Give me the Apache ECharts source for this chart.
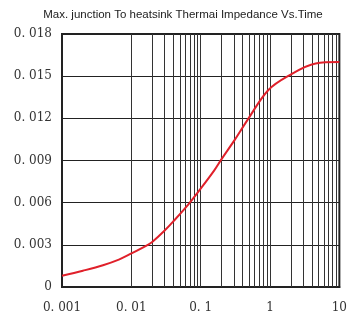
<!DOCTYPE html>
<html>
<head>
<meta charset="utf-8">
<script src="https://cdn.jsdelivr.net/npm/echarts@6/dist/echarts.min.js"></script>
<style>
  html, body { margin: 0; padding: 0; background: #fff; }
  #chart { width: 350px; height: 318px; }
</style>
</head>
<body>
<div id="chart"></div>
<script>
// time (s) and impedance
const times = [0.001, 0.002, 0.0039, 0.0066, 0.0097, 0.0173, 0.02, 0.03, 0.04, 0.067, 0.1, 0.157, 0.2, 0.313, 0.49, 0.94, 1.81, 4.55, 10]
const impedance = [0.0008, 0.00116, 0.00155, 0.00195, 0.00235, 0.003, 0.0032, 0.004, 0.00465, 0.0059, 0.007, 0.0083, 0.0091, 0.0105, 0.012, 0.014, 0.015, 0.0159, 0.016]
const xTickLabels = { 0.001: '0. 001', 0.01: '0. 01', 0.1: '0. 1', 1: '1', 10: '10' }
const yTickLabels = ['0', '0. 003', '0. 006', '0. 009', '0. 012', '0. 015', '0. 018']

// vertical grid lines at every 1..9 step of each decade
const gridXs = []
for (let d = 0.001; d < 10; d *= 10) {
  for (let k = 2; k <= 9; k++) gridXs.push(+(d * k).toPrecision(3))
}
gridXs.push(0.01, 0.1, 1)

const myChart = echarts.init(document.getElementById('chart'))
const option = {
  animation: false,
  title: {
    text: 'Max. junction To heatsink Thermai Impedance Vs.Time',
    left: 178,
    textAlign: 'center',
    top: 4,
    textStyle: {
      fontFamily: 'Liberation Sans Narrow, Liberation Sans',
      fontSize: 11.5,
      fontWeight: 'normal',
      color: '#222'
    }
  },
  grid: {
    left: 62,
    right: 6,
    top: 34,
    bottom: 31,
    show: true,
    borderColor: '#222',
    borderWidth: 2
  },
  xAxis: {
    type: 'log',
    logBase: 10,
    min: 0.001,
    max: 10,
    axisLine: { show: true, lineStyle: { color: '#222', width: 2 } },
    axisTick: { show: false },
    splitLine: { show: false },
    axisLabel: {
      margin: 15,
      fontFamily: 'DejaVu Serif',
      fontSize: 12,
      color: '#333',
      formatter: v => xTickLabels[+v.toPrecision(3)] || ''
    }
  },
  yAxis: {
    type: 'value',
    min: 0,
    max: 0.018,
    interval: 0.003,
    axisLine: { show: true, lineStyle: { color: '#222', width: 2 } },
    axisTick: { show: false },
    splitLine: { show: true, lineStyle: { color: '#222', width: 1 } },
    axisLabel: {
      margin: 10,
      fontFamily: 'DejaVu Serif',
      fontSize: 12,
      color: '#333',
      formatter: v => yTickLabels[Math.round(v / 0.003)]
    }
  },
  series: [
    {
      type: 'line',
      data: times.map((t, i) => [t, impedance[i]]),
      smooth: 0.35,
      showSymbol: false,
      lineStyle: { color: '#e0202a', width: 2 },
      markLine: {
        silent: true,
        symbol: 'none',
        label: { show: false },
        lineStyle: { color: '#333', width: 1, type: 'solid' },
        data: gridXs.map(x => ({ xAxis: x }))
      },
      z: 5
    }
  ]
}
myChart.setOption(option)
</script>
</body>
</html>
